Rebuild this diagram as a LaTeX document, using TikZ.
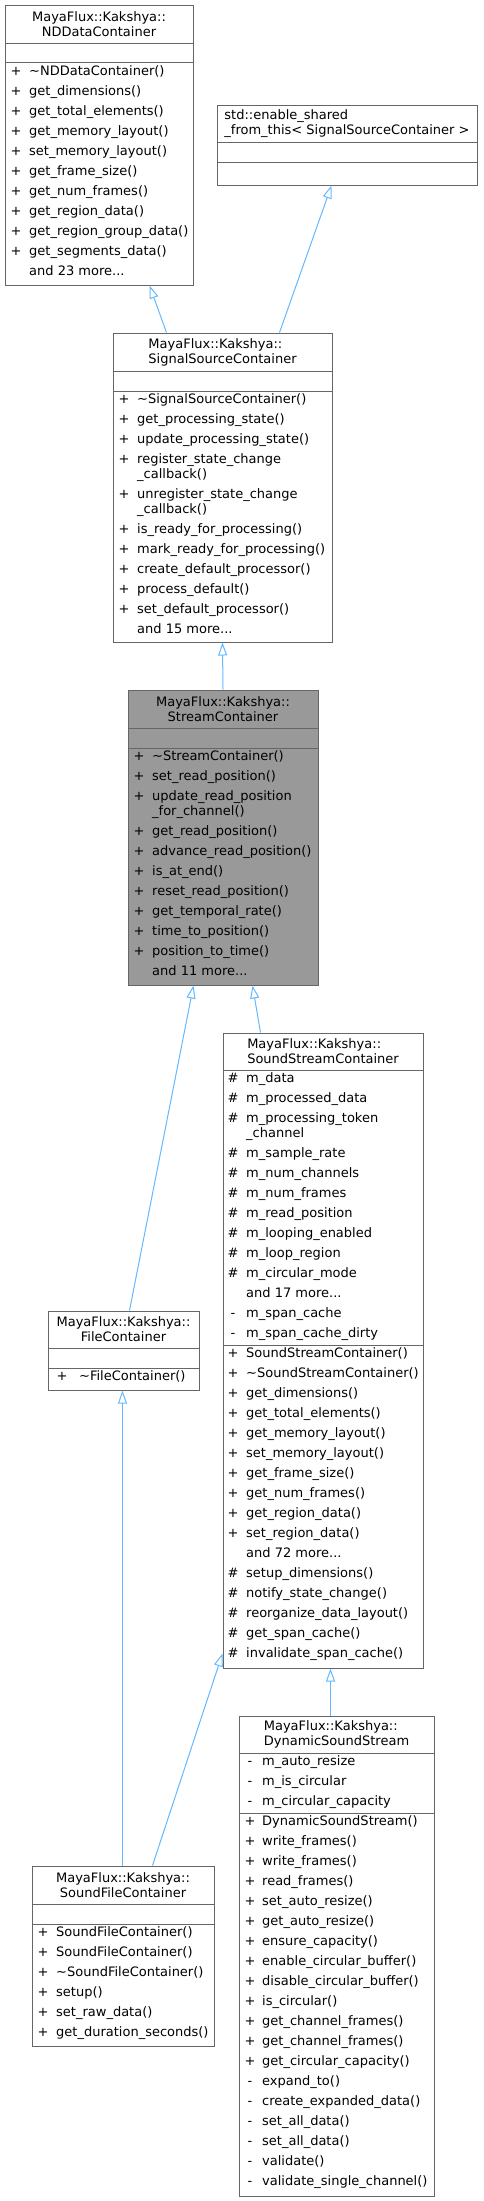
\documentclass[tikz,border=0pt]{standalone}
\usepackage{fontspec}
\setmainfont{DejaVu Sans}
\usetikzlibrary{arrows.meta,fit}

\definecolor{inhblue}{HTML}{63B8FF}
\definecolor{boxedge}{HTML}{666666}
\definecolor{focusfill}{HTML}{999999}

% rows of a class box: symbol x, text x, name prefix, list of y/symbol/text
\newcommand{\members}[4]{%
  \foreach \yy/\sy/\tx [count=\i] in {#4} {
    \node[sym] (#3s\i) at (#1,\yy) {\sy};
    \node[mem] (#3t\i) at (#2,\yy) {\tx};
  }}
\newcommand{\moredots}{...}

\begin{document}
\begin{tikzpicture}[
  x=1pt, y=-1pt,
  cls/.style={draw=boxedge, line width=1pt, fill=white, inner sep=0pt},
  focus/.style={cls, fill=focusfill},
  sepline/.style={draw=boxedge, line width=1pt},
  head/.style={font=\fontsize{13}{15}\selectfont, inner sep=0pt},
  sym/.style={font=\fontsize{13}{15}\selectfont, inner sep=0pt, text height=9.5pt, text depth=3pt},
  mem/.style={sym, anchor=west},
  inh/.style={draw=inhblue, line width=1pt, -{Triangle[open, length=13pt, width=9pt]}}
]
\useasboundingbox (0,0) rectangle (483,2201);

% NDDataContainer
\node[cls, fit={(5,5) (193,285)}] (nd) {};
\draw[sepline] (5,43) -- (193,43) (5,62) -- (193,62);
\node[head, align=center] (nd-h) at (99,24) {MayaFlux::Kakshya::\\NDDataContainer};
\members{16}{29}{nd}{72/+/\textasciitilde NDDataContainer(), 92/+/get\_dimensions(),
  112/+/get\_total\_elements(), 132/+/get\_memory\_layout(), 152/+/set\_memory\_layout(),
  172/+/get\_frame\_size(), 192/+/get\_num\_frames(), 212/+/get\_region\_data(),
  232/+/get\_region\_group\_data(), 252/+/get\_segments\_data(), 272//and 23 more\moredots}

% enable_shared_from_this
\node[cls, fit={(217,105) (477,185)}] (es) {};
\draw[sepline] (217,142) -- (477,142) (217,162) -- (477,162);
\node[head, align=left] (es-h) at (347,123.5) {std::enable\_shared\\\_from\_this< SignalSourceContainer >};

% SignalSourceContainer
\node[cls, fit={(113,333) (332,642)}] (ss) {};
\draw[sepline] (113,371) -- (332,371) (113,391) -- (332,391);
\node[head, align=left] (ss-h) at (222.5,352) {MayaFlux::Kakshya::\\SignalSourceContainer};
\members{124}{137}{ss}{400/+/\textasciitilde SignalSourceContainer(), 420/+/get\_processing\_state(),
  440/+/update\_processing\_state(), 460/+/register\_state\_change, 475//\_callback(),
  495/+/unregister\_state\_change, 510//\_callback(), 530/+/is\_ready\_for\_processing(),
  550/+/mark\_ready\_for\_processing(), 570/+/create\_default\_processor(),
  590/+/process\_default(), 610/+/set\_default\_processor(), 630//and 15 more\moredots}

% StreamContainer
\node[focus, fit={(128,690) (318,985)}] (st) {};
\draw[sepline] (128,728) -- (318,728) (128,748) -- (318,748);
\node[head, align=center] (st-h) at (223,709) {MayaFlux::Kakshya::\\StreamContainer};
\members{139}{152}{st}{757/+/\textasciitilde StreamContainer(), 777/+/set\_read\_position(),
  797/+/update\_read\_position, 812//\_for\_channel(), 832/+/get\_read\_position(),
  852/+/advance\_read\_position(), 872/+/is\_at\_end(), 892/+/reset\_read\_position(),
  912/+/get\_temporal\_rate(), 932/+/time\_to\_position(), 952/+/position\_to\_time(),
  972//and 11 more\moredots}

% SoundStreamContainer
\node[cls, fit={(223,1033) (423,1668)}] (ssc) {};
\draw[sepline] (223,1070) -- (423,1070) (223,1345) -- (423,1345);
\node[head, align=left] (ssc-h) at (323,1051.5) {MayaFlux::Kakshya::\\SoundStreamContainer};
\members{233}{246}{ssc}{1079/\#/m\_data, 1099/\#/m\_processed\_data, 1119/\#/m\_processing\_token,
  1134//\_channel, 1154/\#/m\_sample\_rate, 1174/\#/m\_num\_channels, 1194/\#/m\_num\_frames,
  1214/\#/m\_read\_position, 1234/\#/m\_looping\_enabled, 1254/\#/m\_loop\_region,
  1274/\#/m\_circular\_mode, 1294//and 17 more\moredots, 1314/-/m\_span\_cache,
  1334/-/m\_span\_cache\_dirty,
  1354/+/SoundStreamContainer(), 1374/+/\textasciitilde SoundStreamContainer(),
  1394/+/get\_dimensions(), 1414/+/get\_total\_elements(), 1434/+/get\_memory\_layout(),
  1454/+/set\_memory\_layout(), 1474/+/get\_frame\_size(), 1494/+/get\_num\_frames(),
  1514/+/get\_region\_data(), 1534/+/set\_region\_data(), 1554//and 72 more\moredots,
  1574/\#/setup\_dimensions(), 1594/\#/notify\_state\_change(), 1614/\#/reorganize\_data\_layout(),
  1634/\#/get\_span\_cache(), 1654/\#/invalidate\_span\_cache()}

% FileContainer
\node[cls, fit={(48,1311) (199,1390)}] (fc) {};
\draw[sepline] (48,1348) -- (199,1348) (48,1368) -- (199,1368);
\node[head, align=center] (fc-h) at (123.5,1329.5) {MayaFlux::Kakshya::\\FileContainer};
\members{62}{79}{fc}{1377/+/\textasciitilde FileContainer()}

% DynamicSoundStream
\node[cls, fit={(239,1716) (434,2196)}] (ds) {};
\draw[sepline] (239,1753) -- (434,1753) (239,1813) -- (434,1813);
\node[head, align=left] (ds-h) at (336.5,1734.5) {MayaFlux::Kakshya::\\DynamicSoundStream};
\members{250}{262}{ds}{1762/-/m\_auto\_resize, 1782/-/m\_is\_circular, 1802/-/m\_circular\_capacity,
  1822/+/DynamicSoundStream(), 1842/+/write\_frames(), 1862/+/write\_frames(),
  1882/+/read\_frames(), 1902/+/set\_auto\_resize(), 1922/+/get\_auto\_resize(),
  1942/+/ensure\_capacity(), 1962/+/enable\_circular\_buffer(), 1982/+/disable\_circular\_buffer(),
  2002/+/is\_circular(), 2022/+/get\_channel\_frames(), 2042/+/get\_channel\_frames(),
  2062/+/get\_circular\_capacity(), 2082/-/expand\_to(), 2102/-/create\_expanded\_data(),
  2122/-/set\_all\_data(), 2142/-/set\_all\_data(), 2162/-/validate(),
  2182/-/validate\_single\_channel()}

% SoundFileContainer
\node[cls, fit={(32,1866) (214,2046)}] (sfc) {};
\draw[sepline] (32,1904) -- (214,1904) (32,1924) -- (214,1924);
\node[head, align=center] (sfc-h) at (123,1885) {MayaFlux::Kakshya::\\SoundFileContainer};
\members{43}{56}{sfc}{1933/+/SoundFileContainer(), 1953/+/SoundFileContainer(),
  1973/+/\textasciitilde SoundFileContainer(), 1993/+/setup(), 2013/+/set\_raw\_data(),
  2033/+/get\_duration\_seconds()}

% inheritance
\draw[inh] ([xshift=54pt]ss.north west) -- ([xshift=145pt]nd.south west);
\draw[inh] ([xshift=167pt]ss.north west) -- ([xshift=115pt]es.south west);
\draw[inh] (st.north) -- (ss.south);
\draw[inh] ([xshift=82pt]fc.north west) -- ([xshift=66pt]st.south west);
\draw[inh] ([xshift=38pt]ssc.north west) -- ([xshift=125pt]st.south west);
\draw[inh] ([xshift=91pt]sfc.north west) -- ([xshift=75pt]fc.south west);
\draw[inh] ([xshift=121pt]sfc.north west) -- ([yshift=15pt]ssc.south west);
\draw[inh] ([xshift=92pt]ds.north west) -- ([xshift=108pt]ssc.south west);
\end{tikzpicture}
\end{document}
